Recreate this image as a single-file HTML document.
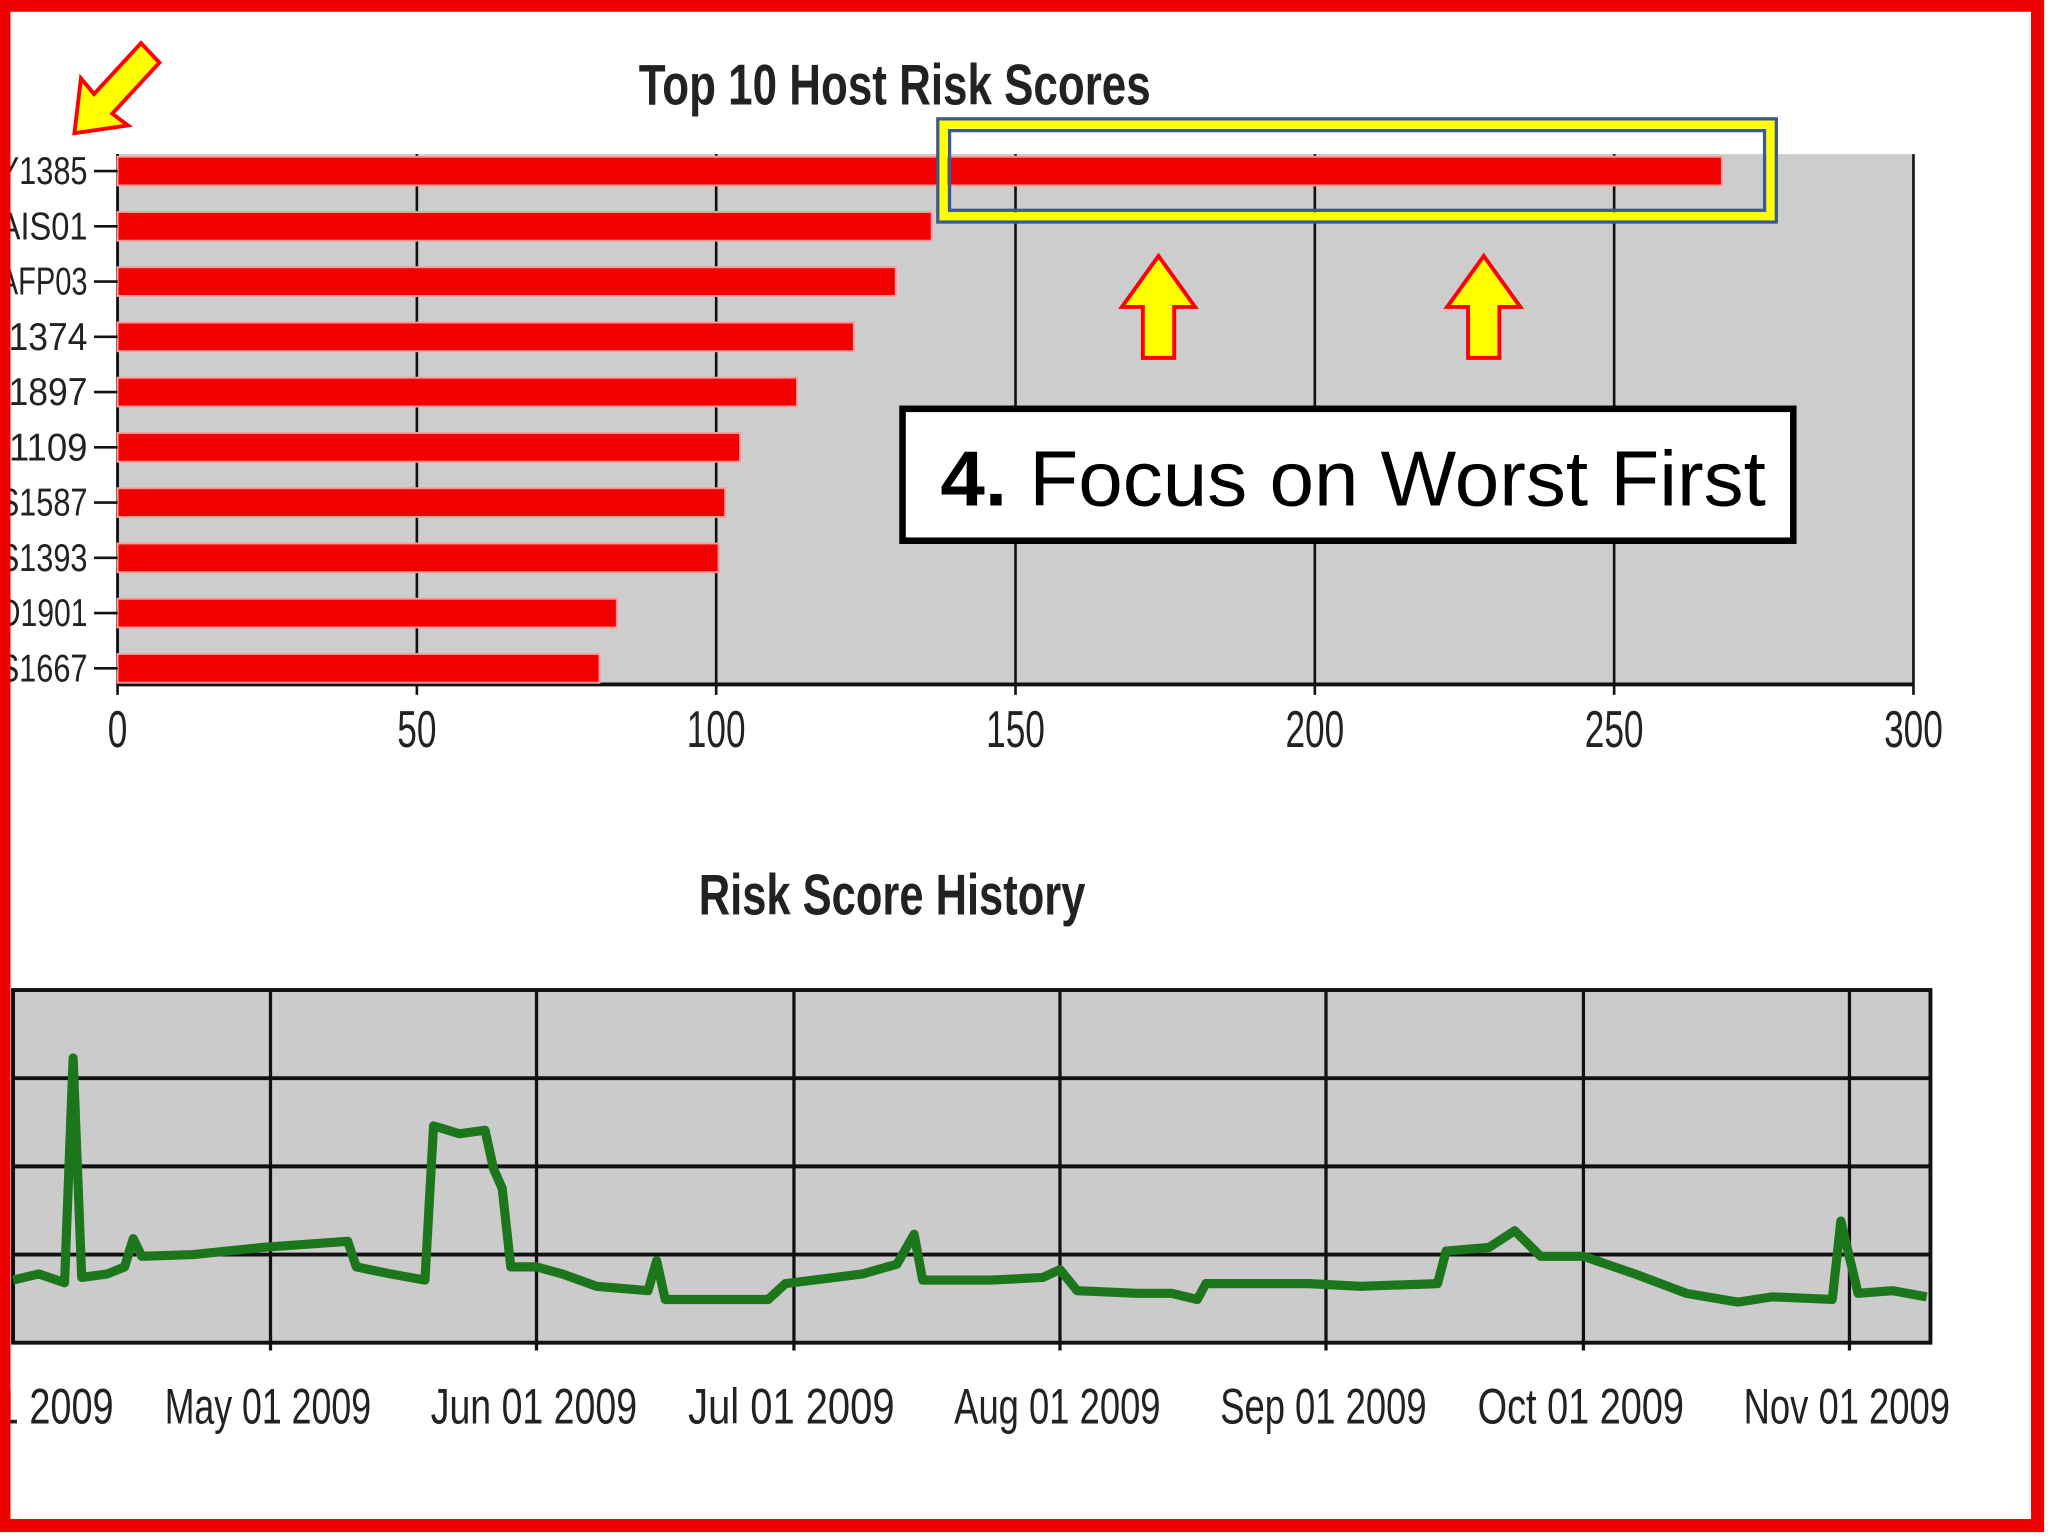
<!DOCTYPE html>
<html><head><meta charset="utf-8"><style>
html,body{margin:0;padding:0;background:#fff}
svg{display:block}
text{font-family:"Liberation Sans Narrow","Liberation Sans",sans-serif}
</style></head><body>
<svg id="s" width="2048" height="1536" viewBox="0 0 1568 1176" preserveAspectRatio="none" xmlns="http://www.w3.org/2000/svg">
<rect x="0" y="0" width="1568" height="1176" fill="#fff"/>
<text x="685" y="80" text-anchor="middle" font-size="44" font-weight="bold" fill="#222" textLength="392" lengthAdjust="spacingAndGlyphs">Top 10 Host Risk Scores</text>
<g id="bars"></g>
<text x="683" y="700" text-anchor="middle" font-size="44" font-weight="bold" fill="#222" textLength="296" lengthAdjust="spacingAndGlyphs">Risk Score History</text>
<g id="line"></g>
<rect x="722" y="95" width="634" height="71" fill="none" stroke="#ffff00" stroke-width="7"/>
<rect x="718" y="91" width="642" height="79" fill="none" stroke="#3b5b8f" stroke-width="2.5"/>
<rect x="727" y="100" width="624" height="61" fill="none" stroke="#3b5b8f" stroke-width="2.5"/>
<polygon points="887,196 915,235 899,235 899,274 875,274 875,235 859,235" fill="#ffff00" stroke="#ff0000" stroke-width="3"/>
<polygon points="1136,196 1164,235 1148,235 1148,274 1124,274 1124,235 1108,235" fill="#ffff00" stroke="#ff0000" stroke-width="3"/>
<polygon points="57,102 62,60 72,72 108,33 122,48 86,87 98,96" fill="#ffff00" stroke="#ff0000" stroke-width="3"/>
<rect x="691" y="313" width="682" height="101" fill="#fff" stroke="#000" stroke-width="5"/>
<text x="720" y="387" font-family="Liberation Sans, sans-serif" font-size="60" fill="#000" textLength="632" lengthAdjust="spacingAndGlyphs"><tspan font-weight="bold">4.</tspan> Focus on Worst First</text>
<rect x="3" y="4" width="1557" height="1164" fill="none" stroke="#ee0000" stroke-width="10"/>
</svg>
<script>
const hosts=["Y1385","AIS01","AFP03","I1374","I1897","I1109","S1587","S1393","D1901","S1667"];
const scores=[268,136,130,123,113.5,104,101.5,100.4,83.4,80.5];
const xTicks=[0,50,100,150,200,250,300];
const days=[0,3,6,7,8,11,13,14,15,21,29,39,40,44,48,49,52,55,56,57,58,61,64,68,74,75,76,81,88,90,99,103,105,106,114,120,122,124,131,135,138,139,151,157,166,167,172,175,178,183,189,195,201,205,212,213,215,219,223];
const risk=[71,78,68,323,74,78,86,118,98,100,108,115,86,78,71,246,237,241,197,175,86,86,78,64,59,93,49,49,49,67,78,89,123,71,71,74,83,59,56,56,49,67,67,64,67,104,108,127,98,98,78,56,46,52,49,138,56,59,52];
const monthLabels=["Apr 01 2009","May 01 2009","Jun 01 2009","Jul 01 2009","Aug 01 2009","Sep 01 2009","Oct 01 2009","Nov 01 2009"];
const monthDays=[0,30,61,91,122,153,183,214];
const yGrid=[100,200,300];
const NS="http://www.w3.org/2000/svg";
function mk(t,a,p){const e=document.createElementNS(NS,t);for(const k in a)e.setAttribute(k,a[k]);p.appendChild(e);return e;}
const B=document.getElementById('bars');
const bx0=90,bx1=1465,by0=118,by1=524;
const bxs=v=>bx0+(v/300)*(bx1-bx0);
const step=42.3;
const byc=i=>by0+13+step*i;
const pbg=mk('rect',{x:bx0,y:by0,width:bx1-bx0,height:by1-by0,fill:'#cdcdcd'},B);


xTicks.forEach(t=>{
 const l=mk('line',{x1:bxs(t),x2:bxs(t),y1:by0,y2:by1+8,stroke:'#111','stroke-width':2},B);
 
 
 const s=String(t);
 const tx=mk('text',{x:bxs(t),y:572,'text-anchor':'middle','font-size':40,fill:'#222',textLength:15*s.length,lengthAdjust:'spacingAndGlyphs'},B);
 tx.textContent=s;
 
 
});
mk('line',{x1:bx0,x2:bx1,y1:by1,y2:by1,stroke:'#111','stroke-width':3},B);
mk('line',{x1:bx0,x2:bx0,y1:by0,y2:by1,stroke:'#111','stroke-width':2},B);
hosts.forEach((h,i)=>{
 const c=byc(i);
 const r=mk('rect',{x:bx0,y:c-11,width:bxs(scores[i])-bx0,height:22,fill:'#f20000',stroke:'#ff9a9a','stroke-width':1.5},B);
 
 
 mk('line',{x1:72,x2:bx0,y1:c,y2:c,stroke:'#111','stroke-width':2},B);
 const t=mk('text',{x:67,y:c+10,'text-anchor':'end','font-size':30,fill:'#222',textLength:68,lengthAdjust:'spacingAndGlyphs'},B);
 t.textContent=h;
 
 
});
const L=document.getElementById('line');
const lx0=10,lx1=1478,ly0=758,ly1=1028;
const lxs=d=>10+d*6.57;
const lys=v=>ly1-(v/400)*(ly1-ly0);
const lbg=mk('rect',{x:lx0,y:ly0,width:lx1-lx0,height:ly1-ly0,fill:'#cbcbcb',stroke:'#111','stroke-width':3},L);


yGrid.forEach(v=>{
 const g=mk('line',{x1:lx0,x2:lx1,y1:lys(v),y2:lys(v),stroke:'#111','stroke-width':3},L);
 
 
});
monthDays.forEach((d,i)=>{
 if(i>0){const g=mk('line',{x1:lxs(d),x2:lxs(d),y1:ly0,y2:ly1+6,stroke:'#111','stroke-width':2.5},L);
 
 }
 const t=mk('text',{x:lxs(d)-2,y:1090,'text-anchor':'middle','font-size':38,fill:'#222',textLength:158,lengthAdjust:'spacingAndGlyphs'},L);
 t.textContent=monthLabels[i];
 
 
});
const pts=days.map((d,i)=>lxs(d)+','+lys(risk[i])).join(' ');
const pl=mk('polyline',{points:pts,fill:'none',stroke:'#1c761c','stroke-width':7,'stroke-linejoin':'round'},L);


</script>
</body></html>
